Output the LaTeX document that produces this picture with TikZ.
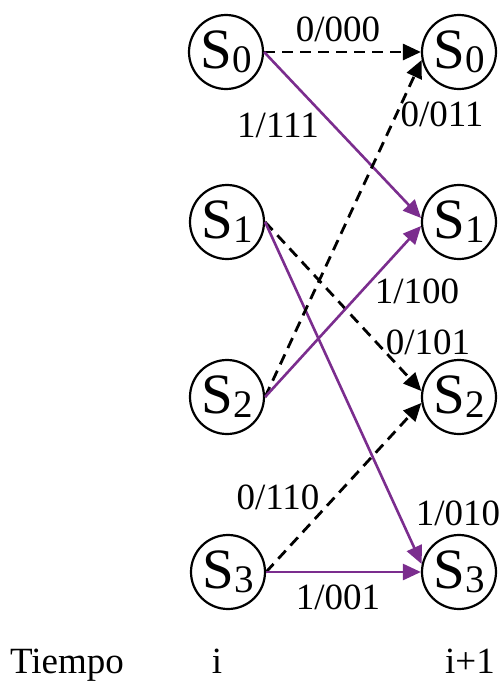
\documentclass[tikz,border=0pt]{standalone}
\usepackage{fontspec}
\setmainfont{Liberation Serif}
\usetikzlibrary{arrows.meta}
\definecolor{trpurple}{RGB}{123,45,142}
\tikzset{
  st/.style={circle,draw,line width=2.2pt,minimum size=74pt,inner sep=0pt},
  lbl/.style={font=\fontsize{37}{37}\selectfont,inner sep=0pt},
  zero/.style={line width=2.8pt,dash pattern=on 11pt off 7pt,-{Triangle[length=18pt,width=16pt]}},
  one/.style={trpurple,line width=2.6pt,-{Triangle[length=18pt,width=16pt]}}
}
\newcommand{\stlab}[1]{{\fontsize{57}{57}\selectfont S}\raisebox{-4pt}{\fontsize{39}{39}\selectfont #1}}
\begin{document}
\begin{tikzpicture}[x=1pt,y=-1pt]
\useasboundingbox (0,0) rectangle (501,681);
\node[st] (l0) at (226,52) {\stlab{0}};
\node[st] (l1) at (227,222) {\stlab{1}};
\node[st] (l2) at (227,397) {\stlab{2}};
\node[st] (l3) at (228,572) {\stlab{3}};
\node[st] (r0) at (459,52) {\stlab{0}};
\node[st] (r1) at (459,222) {\stlab{1}};
\node[st] (r2) at (459,397) {\stlab{2}};
\node[st] (r3) at (459,572) {\stlab{3}};

\draw[zero] (l0.east) -- (r0.west);
\draw[one] (l0.east) -- (r1.174);
\draw[zero] (l1.east) -- (r2.171);
\draw[one] (l1.east) -- (r3.168);
\draw[zero] (l2.east) -- (r0.192);
\draw[one] (l2.east) -- (r1.186);
\draw[zero] (l3.east) -- (r2.189);
\draw[one] (l3.east) -- (r3.west);

\node[lbl] (a) at (338,29) {0/000};
\node[lbl] (b) at (278,125) {1/111};
\node[lbl] (c) at (442,114) {0/011};
\node[lbl] (d) at (417,291) {1/100};
\node[lbl] (e) at (428,342) {0/101};
\node[lbl] (f) at (278,497) {0/110};
\node[lbl] (g) at (458,513) {1/010};
\node[lbl] (h) at (338,597) {1/001};

\node[lbl,anchor=base] (t) at (67,673) {Tiempo};
\node[lbl,anchor=base] (ti) at (217,673) {i};
\node[lbl,anchor=base] (ti1) at (470,673) {i+1};
\end{tikzpicture}
\end{document}
